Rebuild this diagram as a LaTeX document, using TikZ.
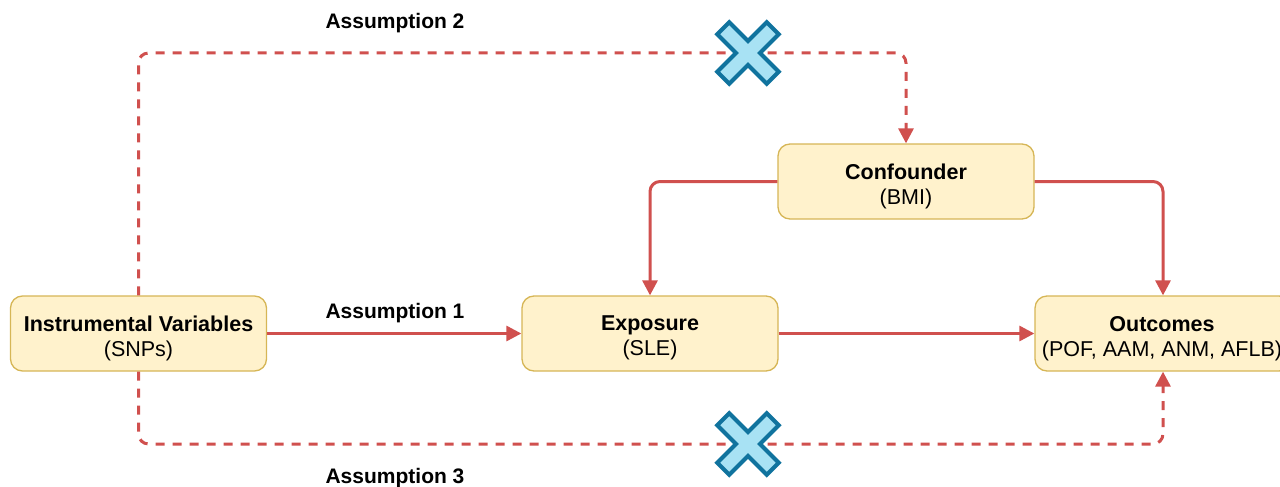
\documentclass[tikz,border=0pt]{standalone}
\usepackage{fontspec}
\setmainfont{Liberation Sans}
\usetikzlibrary{arrows.meta}
\definecolor{boxfill}{HTML}{FFF2CC}
\definecolor{boxline}{HTML}{D6B656}
\definecolor{linkred}{HTML}{D0504E}
\definecolor{xfill}{HTML}{A8E2F4}
\definecolor{xline}{HTML}{10739E}
\tikzset{
  stepbox/.style={draw=boxline, fill=boxfill, line width=1.3pt, rounded corners=12pt,
    minimum width=256pt, minimum height=75pt, align=center, inner sep=0pt,
    text depth=-3pt, font=\fontsize{21.5}{25}\selectfont},
  link/.style={draw=linkred, line width=3pt, rounded corners=10pt,
    -{Triangle[length=15pt,width=15pt]}},
  dlink/.style={link, dash pattern=on 9pt off 8pt},
  lab/.style={font=\fontsize{21}{25}\selectfont\bfseries},
  xmark/.style={draw=xline, fill=xfill, line width=4pt, line join=miter}
}
\newcommand{\xcross}[1]{%
  \draw[xmark, shift={#1}, rotate=45]
    (8.5,8.5) -- (35,8.5) -- (35,-8.5) -- (8.5,-8.5) -- (8.5,-35) -- (-8.5,-35)
    -- (-8.5,-8.5) -- (-35,-8.5) -- (-35,8.5) -- (-8.5,8.5) -- (-8.5,35) -- (8.5,35) -- cycle;}
\begin{document}
\begin{tikzpicture}[x=1pt,y=-1pt]
\useasboundingbox (0,0) rectangle (1280,487);
\begin{scope}
\clip (0,0) rectangle (1280,487);
\node[stepbox] (iv) at (138.5,333.5) {};
\node[stepbox] (exp) at (650,333.5) {};
\node[stepbox] (out) at (1163,333.5) {};
\node[stepbox] (conf) at (906,181.5) {};
\node[stepbox, draw=none, fill=none] (ivt) at (138.5,336) {\textbf{Instrumental Variables}\\(SNPs)};
\node[stepbox, draw=none, fill=none] (expt) at (650,336) {\textbf{Exposure}\\(SLE)};
\node[stepbox, draw=none, fill=none] (outt) at (1162,336) {\textbf{Outcomes}\\(POF, AAM, ANM, AFLB)};
\node[stepbox, draw=none, fill=none] (conft) at (906,184) {\textbf{Confounder}\\(BMI)};

\draw[link] (iv.east) -- (exp.west);
\draw[link] (exp.east) -- (out.west);
\draw[link] (conf.west) -| (exp.north);
\draw[link] (conf.east) -| (out.north);
\draw[dlink] (iv.north) |- (390,53) -| (conf.north);
\draw[dlink] (iv.south) |- (390,444) -| (out.south);

\node[lab] (a1) at (395,313) {Assumption 1};
\node[lab] (a2) at (395,23) {Assumption 2};
\node[lab] (a3) at (395,478) {Assumption 3};

\xcross{(748,53)}
\xcross{(748,444)}
\end{scope}
\end{tikzpicture}
\end{document}
